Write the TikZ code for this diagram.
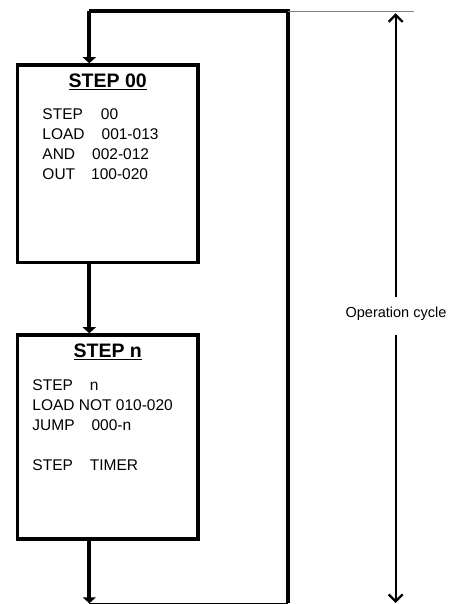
\documentclass[tikz,border=0pt]{standalone}
\usepackage{fontspec}
\setmainfont{Liberation Sans}
\usepackage{tikz}
\usetikzlibrary{arrows.meta, positioning, calc}

\begin{document}
\begin{tikzpicture}[
  x=1pt, y=1pt,
  % ---- Step boxes ----
  stepbox/.style={draw, rectangle, line width=3.5pt, inner sep=0pt,
    minimum width=180.5pt},
  ttl/.style ={font=\fontsize{19.5}{22}\selectfont\bfseries, inner sep=0pt},
  body/.style={font=\fontsize{15.5}{20}\selectfont, align=left,
    anchor=north west, inner sep=0pt},
  % ---- Connector styles ----
  flow/.style={line width=4pt, -{Triangle[length=6pt, width=13pt]}},
  bus/.style ={line width=4pt},
  ret/.style ={line width=1.2pt},
  ext/.style ={line width=1pt, gray},
  dim/.style ={line width=2.3pt, -{Straight Barb[length=7pt, width=14pt]}},
  lbl/.style ={font=\fontsize{14.5}{17}\selectfont, inner sep=0pt},
]
\useasboundingbox (0,0) rectangle (457,604);

% ---- Steps ----
\node[stepbox, minimum height=197.5pt] (s00) at (107.75,440.25) {};
\node[stepbox, minimum height=204pt]   (sn)  at (107.75,167)    {};

\node[ttl] (t00) at ($(s00.north)+(0,-18.75)$) {\underline{STEP 00}};
\node[ttl] (tn)  at ($(sn.north)+(0,-18.75)$)  {\underline{STEP n}};

\node[body] (b00) at ($(s00.north west)+(26.5,-45.5)$)
  {STEP\hspace{18pt}00\\
   LOAD\hspace{17pt}001-013\\
   AND\hspace{17pt}002-012\\
   OUT\hspace{16pt}100-020};
\node[body] (bn) at ($(sn.north west)+(16.5,-46.5)$)
  {STEP\hspace{17pt}n\\
   LOAD NOT 010-020\\
   JUMP\hspace{17pt}000-n\\[20pt]
   STEP\hspace{17pt}TIMER};

% ---- Loop coordinates ----
\coordinate (lx) at (89.3,0);
\coordinate (rt) at (287.5,592.7);
\coordinate (rb) at (287.5,0.7);
\coordinate (xe) at (414,592.7);

% ---- Step flow ----
\draw[flow] (s00.south -| lx) -- (sn.north -| lx);
\draw[flow] (sn.south -| lx) -- (lx |- rb);
\draw[ret]  (lx |- rb) -- (rb);
\draw[bus, line join=miter] (rb) -- (rt) -- (lx |- rt);
\draw[flow] (lx |- rt) -- (s00.north -| lx);
\draw[ext]  (rt) -- (xe);

% ---- Operation cycle dimension ----
\node[lbl] (cyc) at (396,290) {Operation cycle};
\coordinate (cu) at (395.7,307);
\coordinate (cl) at (395.7,269);
\coordinate (dt) at (395.7,590.7);
\coordinate (db) at (395.7,1);
\draw[dim] (cu) -- (dt);
\draw[dim] (cl) -- (db);
\end{tikzpicture}
\end{document}
